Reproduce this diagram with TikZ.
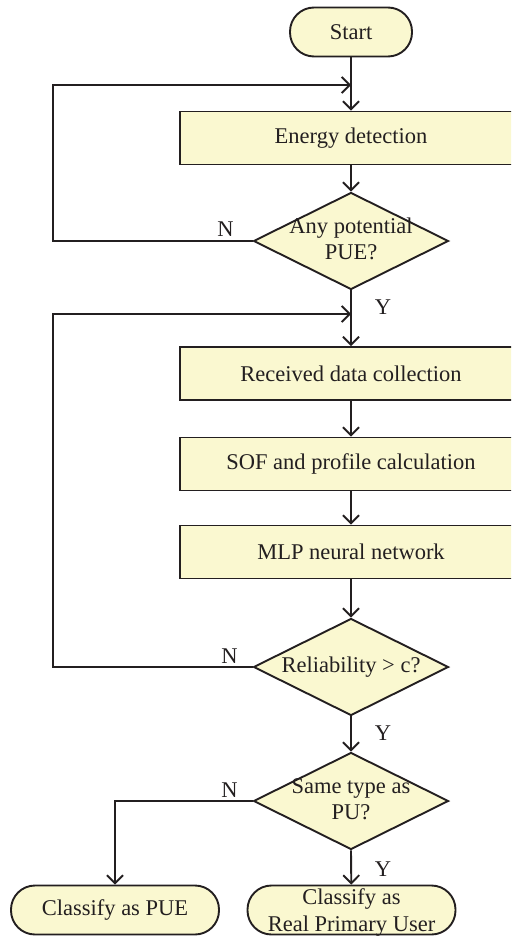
\documentclass[tikz,border=0pt]{standalone}
\usepackage{fontspec}
\setmainfont{Liberation Serif}
\usetikzlibrary{arrows.meta,shapes.geometric,calc}
\definecolor{boxfill}{RGB}{250,248,208}
\definecolor{ink}{RGB}{35,31,32}
\begin{document}
\begin{tikzpicture}[x=1pt,y=-1pt,
  line width=1.9pt, draw=ink,
  every node/.style={font=\fontsize{22.5}{26}\selectfont, text=ink},
  procbox/.style={draw=ink, fill=boxfill, rectangle, minimum width=342pt, minimum height=53pt, inner sep=0pt},
  termbox/.style={draw=ink, fill=boxfill, rectangle, rounded corners=24pt, minimum height=49pt, inner sep=0pt, align=center},
  decide/.style={draw=ink, fill=boxfill, diamond, minimum width=195pt, minimum height=97pt, inner sep=0pt, align=center},
  arr/.style={draw=ink, -{Straight Barb[length=8pt,width=16pt]}},
  lbl/.style={inner sep=0pt}]
\clip (0,0) rectangle (511,936);

% nodes of the flow
\node[termbox, minimum width=122pt] (start) at (351,32) {Start};
\node[procbox] (energy) at (351,138) {Energy detection};
\node[decide] (d1) at (351,241) {\makebox[0pt]{\begin{tabular}{@{}c@{}}Any potential\\PUE?\end{tabular}}};
\node[procbox] (recv) at (351,373.5) {Received data collection};
\node[procbox] (sof) at (351,464) {SOF and profile calculation};
\node[procbox] (mlp) at (351,552) {MLP neural network};
\node[decide] (d2) at (351,667) {\makebox[0pt]{Reliability > c?}};
\node[decide] (d3) at (351,801) {\makebox[0pt]{\begin{tabular}{@{}c@{}}Same type as\\PU?\end{tabular}}};
\node[termbox, minimum width=208pt] (pue) at (115,910) {Classify as PUE};
% the two lines are taken out of the size calculation and set a little low
\node[termbox, minimum width=208pt] (real) at (351.5,910)
  {\raisebox{-8pt}[0pt][0pt]{\begin{tabular}{@{}c@{}}Classify as\\[1pt]Real Primary User\end{tabular}}};

% junctions of the feedback loops
\coordinate (j1) at (351,85);
\coordinate (l1) at (53,85);
\coordinate (j2) at (351,314);
\coordinate (l2) at (53,314);

% main flow
\draw[arr] (start) -- (energy);
\draw[arr] (energy) -- (d1);
\draw[arr] (d1.south) -- (recv);
\draw[arr] (recv) -- (sof);
\draw[arr] (sof) -- (mlp);
\draw[arr] (mlp) -- (d2.north);
\draw[arr] (d2.south) -- (d3.north);
\draw[arr] (d3.south) -- (real);
\draw[arr] (d3.west) -| (pue.north);

% feedback loops
\draw[arr] (d1.west) -| (l1) -- (j1);
\draw[arr] (d2.west) -| (l2) -- (j2);

% branch labels
\node[lbl] (n1) at ([xshift=-27pt,yshift=12pt]d1.west) {N};
\node[lbl] (y1) at ([xshift=32pt,yshift=-17pt]d1.south) {Y};
\node[lbl] (n2) at ([xshift=-23pt,yshift=11pt]d2.west) {N};
\node[lbl] (y2) at ([xshift=32pt,yshift=-17pt]d2.south) {Y};
\node[lbl] (n3) at ([xshift=-23pt,yshift=11pt]d3.west) {N};
\node[lbl] (y3) at ([xshift=32pt,yshift=-19pt]d3.south) {Y};
\end{tikzpicture}
\end{document}
